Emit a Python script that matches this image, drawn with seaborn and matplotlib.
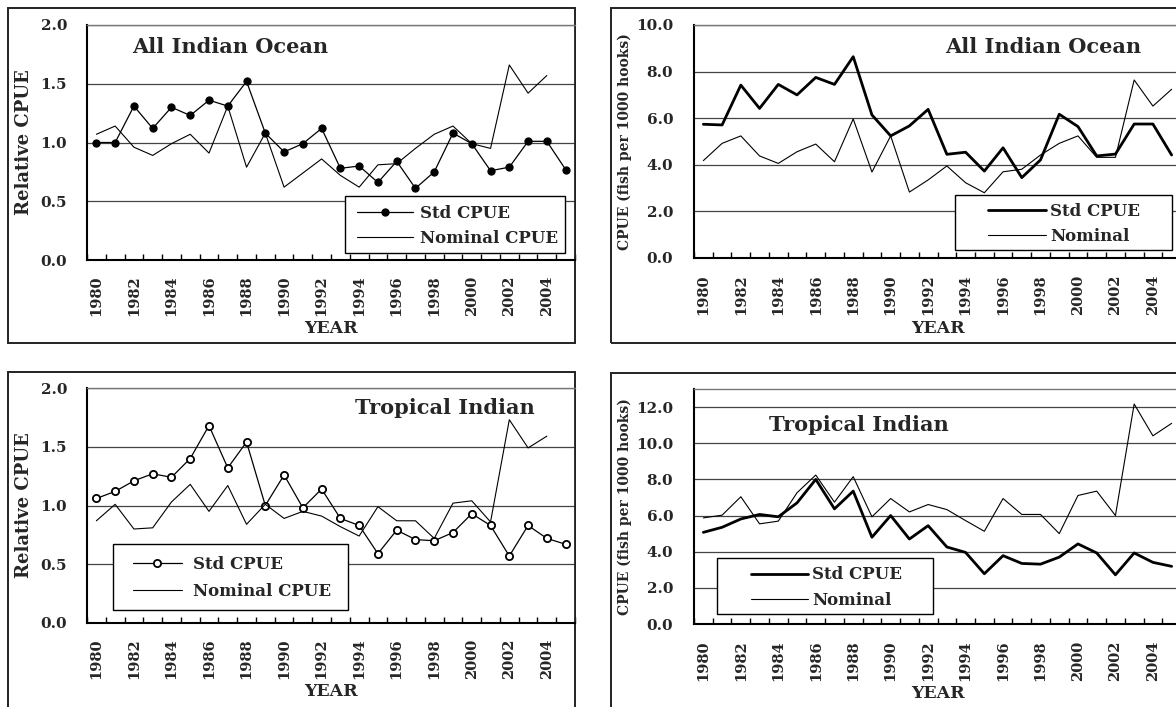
import numpy as np
import pandas as pd
import matplotlib
matplotlib.use("Agg")
import matplotlib.pyplot as plt
import seaborn as sns
from matplotlib.patches import Rectangle
from matplotlib.ticker import FormatStrFormatter

# ---------------- data ----------------
years = list(range(1980, 2006))
year_ticks = list(range(1980, 2006, 2))

# All Indian Ocean - relative CPUE (top-left)
all_rel_std = [1.00, 1.00, 1.31, 1.12, 1.30, 1.23, 1.36, 1.31, 1.52, 1.08, 0.92, 0.99, 1.12,
               0.78, 0.80, 0.66, 0.84, 0.61, 0.75, 1.08, 0.99, 0.76, 0.79, 1.01, 1.01, 0.77]
all_rel_nom = [1.07, 1.14, 0.96, 0.89, 0.99, 1.07, 0.91, 1.31, 0.79, 1.08, 0.62, 0.74, 0.86,
               0.72, 0.62, 0.81, 0.82, 0.95, 1.07, 1.14, 0.99, 0.95, 1.66, 1.42, 1.57]

# All Indian Ocean - CPUE fish per 1000 hooks (top-right)
all_cpue_std = [5.74, 5.71, 7.42, 6.42, 7.45, 7.00, 7.75, 7.45, 8.64, 6.14, 5.24, 5.67, 6.38,
                4.45, 4.54, 3.73, 4.73, 3.45, 4.21, 6.17, 5.64, 4.38, 4.46, 5.75, 5.75, 4.42]
all_cpue_nom = [4.18, 4.92, 5.24, 4.38, 4.06, 4.56, 4.89, 4.13, 5.97, 3.69, 5.24, 2.83, 3.35,
                3.95, 3.23, 2.80, 3.70, 3.81, 4.42, 4.92, 5.24, 4.32, 4.32, 7.64, 6.52, 7.24]

# Tropical Indian - relative CPUE (bottom-left)
trop_rel_std = [1.06, 1.12, 1.21, 1.27, 1.24, 1.40, 1.68, 1.32, 1.54, 1.00, 1.26, 0.98, 1.14,
                0.89, 0.83, 0.59, 0.79, 0.71, 0.70, 0.77, 0.93, 0.83, 0.57, 0.83, 0.72, 0.67]
trop_rel_nom = [0.87, 1.01, 0.80, 0.81, 1.03, 1.18, 0.95, 1.17, 0.84, 1.01, 0.89, 0.95, 0.91,
                0.82, 0.74, 0.99, 0.87, 0.87, 0.72, 1.02, 1.04, 0.86, 1.73, 1.49, 1.59]

# Tropical Indian - CPUE fish per 1000 hooks (bottom-right)
trop_cpue_std = [5.07, 5.35, 5.81, 6.06, 5.93, 6.70, 8.00, 6.37, 7.35, 4.80, 6.00, 4.70, 5.44,
                 4.26, 3.96, 2.78, 3.78, 3.35, 3.31, 3.70, 4.43, 3.93, 2.72, 3.93, 3.41, 3.19]
trop_cpue_nom = [5.87, 6.02, 7.04, 5.54, 5.69, 7.26, 8.24, 6.74, 8.15, 5.93, 6.94, 6.20, 6.61,
                 6.33, 5.72, 5.13, 6.94, 6.06, 6.06, 5.00, 7.11, 7.35, 6.00, 12.17, 10.41, 11.10]

rel_ticks = [0.0, 0.5, 1.0, 1.5, 2.0]
all_cpue_ticks = [0.0, 2.0, 4.0, 6.0, 8.0, 10.0]
trop_cpue_ticks = [0.0, 2.0, 4.0, 6.0, 8.0, 10.0, 12.0]

# ---------------- style ----------------
sns.set_style("white")
plt.rcParams["font.family"] = ["DejaVu Serif"]
plt.rcParams["font.weight"] = "bold"
plt.rcParams["axes.labelweight"] = "bold"

W, H = 1176, 707
fig = plt.figure(figsize=(W / 100, H / 100), dpi=100)


def add_axes(l, r, t, b):
    return fig.add_axes([l / W, 1 - b / H, (r - l) / W, (b - t) / H])


def frame(l, r, t, b):
    fig.add_artist(Rectangle((l / W, 1 - b / H), (r - l) / W, (b - t) / H,
                             transform=fig.transFigure, fill=False,
                             ec="#222222", lw=1.4, zorder=0))


def panel(ax, std, nom, ylim, yticks, std_kw, labels, title, title_xy, title_size,
          ylabel, ylabel_size, ylabel_x, xlabel_y, leg_rect, leg_anchor, leg_kw, ypad, xpad):
    df_std = pd.DataFrame({"year": years[:len(std)], "value": std})
    df_nom = pd.DataFrame({"year": years[:len(nom)], "value": nom})
    sns.lineplot(data=df_std, x="year", y="value", ax=ax, label=labels[0], **std_kw)
    sns.lineplot(data=df_nom, x="year", y="value", ax=ax, color="black", lw=0.8,
                 label=labels[1])

    ax.set_xlim(1979.5, 2005.5)
    ax.set_ylim(*ylim)
    ax.set_yticks(yticks)
    ax.yaxis.set_major_formatter(FormatStrFormatter("%.1f"))
    ax.set_xticks(year_ticks)
    ax.set_xticks(np.arange(1979.5, 2006, 1.0), minor=True)
    ax.tick_params(axis="x", which="major", length=0, pad=xpad, rotation=90, labelsize=10.5)
    ax.tick_params(axis="x", which="minor", direction="in", length=4.5, width=1.0,
                   color="black", bottom=True)
    ax.tick_params(axis="y", length=0, pad=ypad, labelsize=11)
    ax.yaxis.grid(True, color="#444444", lw=0.9)
    ax.xaxis.grid(False)
    ax.set_axisbelow(True)

    for s in ["left", "bottom"]:
        ax.spines[s].set_color("black")
        ax.spines[s].set_linewidth(1.5)
    ax.spines["top"].set_color("#777777")
    ax.spines["top"].set_linewidth(1.0)
    ax.spines["right"].set_color("#222222")
    ax.spines["right"].set_linewidth(1.3)

    ax.set_xlabel("YEAR", fontsize=12.5)
    ax.xaxis.set_label_coords(0.5, xlabel_y)
    ax.set_ylabel(ylabel, fontsize=ylabel_size)
    ax.yaxis.set_label_coords(ylabel_x, 0.5)

    ax.text(title_xy[0], title_xy[1], title, transform=ax.transAxes, ha="center",
            va="center", fontsize=title_size, zorder=6)

    x0, y0, x1, y1 = leg_rect
    ax.add_patch(Rectangle((x0, y0), x1 - x0, y1 - y0, transform=ax.transAxes,
                           fc="white", ec="black", lw=1.0, zorder=4))
    handles, labs = ax.get_legend_handles_labels()
    leg = ax.legend(handles, labs, loc="center left", bbox_to_anchor=leg_anchor,
                    frameon=False, fontsize=12, borderpad=0, borderaxespad=0, **leg_kw)
    leg.set_zorder(5)


# frames (chart areas)
frame(8, 575, 8, 343)
frame(8, 575, 372, 760)
frame(611, 1250, 8, 343)
frame(611, 1250, 373, 760)

ax1 = add_axes(87, 575, 25, 260)
ax2 = add_axes(694, 1181, 25, 258)
ax3 = add_axes(87, 575, 388, 623)
ax4 = add_axes(694, 1181, 389, 624)

panel(ax1, all_rel_std, all_rel_nom, (0, 2.0), rel_ticks,
      dict(color="black", lw=0.9, marker="o", markersize=5.2, markerfacecolor="black",
           markeredgecolor="black"),
      ["Std CPUE", "Nominal CPUE"], "All Indian Ocean", (0.294, 0.906), 15,
      "Relative CPUE", 13, -0.111, -0.255,
      (0.529, 0.030, 0.980, 0.272), (0.553, 0.145),
      dict(handlelength=3.35, handletextpad=0.42, labelspacing=0.5), 14.4, 11)

panel(ax2, all_cpue_std, all_cpue_nom, (0, 10.0), all_cpue_ticks,
      dict(color="black", lw=2.0),
      ["Std CPUE", "Nominal"], "All Indian Ocean", (0.718, 0.906), 15,
      "CPUE (fish per 1000 hooks)", 10, -0.127, -0.266,
      (0.536, 0.034, 0.981, 0.270), (0.604, 0.146),
      dict(handlelength=3.5, handletextpad=0.2, labelspacing=0.5), 15, 12)

panel(ax3, trop_rel_std, trop_rel_nom, (0, 2.0), rel_ticks,
      dict(color="black", lw=0.9, marker="o", markersize=5.2, markerfacecolor="white",
           markeredgecolor="black", markeredgewidth=1.3),
      ["Std CPUE", "Nominal CPUE"], "Tropical Indian", (0.734, 0.915), 15,
      "Relative CPUE", 13, -0.111, -0.255,
      (0.053, 0.055, 0.535, 0.336), (0.094, 0.191),
      dict(handlelength=2.95, handletextpad=0.66, labelspacing=0.6), 14.4, 11)

panel(ax4, trop_cpue_std, trop_cpue_nom, (0, 13.0), trop_cpue_ticks,
      dict(color="black", lw=2.0),
      ["Std CPUE", "Nominal"], "Tropical Indian", (0.339, 0.847), 15,
      "CPUE (fish per 1000 hooks)", 10, -0.127, -0.26,
      (0.047, 0.043, 0.491, 0.281), (0.117, 0.155),
      dict(handlelength=3.4, handletextpad=0.25, labelspacing=0.5), 15, 12)

fig.savefig("out.png", dpi=100)
